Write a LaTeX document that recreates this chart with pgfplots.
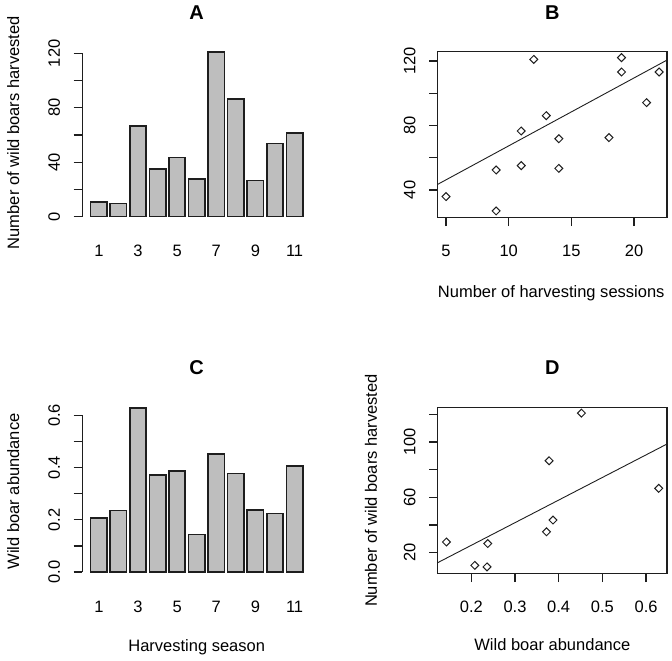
\documentclass[border=0pt]{standalone}
\usepackage{fontspec}
\setmainfont{Liberation Sans}
\usepackage{pgfplots}
\pgfplotsset{compat=1.18}
\definecolor{bargray}{HTML}{BEBEBE}
\definecolor{ink}{HTML}{1E1E1E}
\pgfplotsset{
  rplot/.style={
    scale only axis,
    font=\fontsize{16.5bp}{19bp}\selectfont,
    tick align=outside,
    major tick length=8.5bp,
    tick pos=left,
    tick style={ink, line width=1.3bp},
    axis line style={ink, line width=1.3bp},
    title style={font=\fontsize{20bp}{24bp}\selectfont\bfseries, at={(0.5,1)}, anchor=center, yshift=33.3bp},
    xticklabel style={anchor=center, yshift=-24.3bp},
    yticklabel style={anchor=center, xshift=-19.5bp, rotate=90},
    xlabel style={anchor=center},
    ylabel style={anchor=center},
    /pgf/number format/assume math mode=true,
    clip=false,
  },
  rbar/.style={ybar, bar width=1, fill=bargray, draw=ink, line width=1.6bp},
  rpts/.style={only marks, mark=square, mark size=2.8bp, mark options={rotate=45, draw=ink, fill=none, line width=1bp}},
  rline/.style={ink, line width=0.9bp, no marks},
}
\begin{document}
\begin{tikzpicture}[x=1bp,y=1bp]
\path[use as bounding box] (0,0) rectangle (672,661);

% Panel A
\begin{axis}[rplot, at={(82.2bp,443.3bp)}, anchor=south west,
  width=229bp, height=166bp,
  xmin=-0.32, xmax=13.72, ymin=-0.73, ymax=121.2,
  axis line style={draw=none},
  xtick={0.7,3.1,5.5,7.9,10.3,12.7}, xticklabels={1,3,5,7,9,11},
  xtick style={draw=none},
  ytick={0,20,40,60,80,100,120}, yticklabels={0,,40,,80,,120},
  title={A},
  ylabel={Number of wild boars harvested},
  ylabel style={at={(axis description cs:-0.301,0.512)}},
]
\draw[ink, line width=1.3bp] (axis cs:-0.32,0) -- (axis cs:-0.32,120);
\addplot[rbar] coordinates {(0.7,10.8) (1.9,9.7) (3.1,66.5) (4.3,35.1) (5.5,43.6) (6.7,27.7) (7.9,120.9) (9.1,86.4) (10.3,26.6) (11.5,53.9) (12.7,61.5)};
\end{axis}

% Panel B
\begin{axis}[rplot, at={(437.7bp,443.3bp)}, anchor=south west,
  width=229.3bp, height=166bp,
  xmin=4.338, xmax=22.63, ymin=22.8, ymax=125.8,
  xtick={5,10,15,20}, xticklabels={5,10,15,20},
  ytick={40,60,80,100,120}, yticklabels={40,,80,,120},
  title={B},
  xlabel={Number of harvesting sessions},
  xlabel style={at={(axis description cs:0.495,-0.456)}},
]
\addplot[rpts] coordinates {(5,35.9) (9,27.0) (9,52.4) (11,55.1) (11,76.6) (12,121.0) (13,86.1) (14,71.8) (14,53.4) (18,72.5) (19,122.1) (19,113.2) (21,94.2) (22,113.2)};
\addplot[rline] coordinates {(4.338,43.5) (22.63,120.6)};
\end{axis}

% Panel C
\begin{axis}[rplot, at={(82.2bp,87.3bp)}, anchor=south west,
  width=229bp, height=166.4bp,
  xmin=-0.32, xmax=13.72, ymin=-0.0065, ymax=0.631,
  axis line style={draw=none},
  xtick={0.7,3.1,5.5,7.9,10.3,12.7}, xticklabels={1,3,5,7,9,11},
  xtick style={draw=none},
  ytick={0,0.1,0.2,0.3,0.4,0.5,0.6}, yticklabels={0.0,,0.2,,0.4,,0.6},
  title={C},
  ylabel={Wild boar abundance},
  ylabel style={at={(axis description cs:-0.301,0.495)}},
  xlabel={Harvesting season},
  xlabel style={at={(axis description cs:0.5,-0.439)}},
]
\draw[ink, line width=1.3bp] (axis cs:-0.32,0) -- (axis cs:-0.32,0.6);
\addplot[rbar] coordinates {(0.7,0.208) (1.9,0.236) (3.1,0.629) (4.3,0.372) (5.5,0.387) (6.7,0.143) (7.9,0.452) (9.1,0.378) (10.3,0.2375) (11.5,0.2245) (12.7,0.407)};
\end{axis}

% Panel D
\begin{axis}[rplot, at={(437.7bp,87.3bp)}, anchor=south west,
  width=229.3bp, height=166.4bp,
  xmin=0.123, xmax=0.648, ymin=4.8, ymax=125.1,
  xtick={0.2,0.3,0.4,0.5,0.6}, xticklabels={0.2,0.3,0.4,0.5,0.6},
  ytick={20,40,60,80,100,120}, yticklabels={20,,60,,100,},
  title={D},
  ylabel={Number of wild boars harvested},
  ylabel style={at={(axis description cs:-0.291,0.5)}},
  xlabel={Wild boar abundance},
  xlabel style={at={(axis description cs:0.5,-0.428)}},
]
\addplot[rpts] coordinates {(0.143,27.7) (0.208,10.8) (0.236,9.7) (0.2375,26.6) (0.372,35.1) (0.387,43.6) (0.378,86.4) (0.452,120.9) (0.629,66.5)};
\addplot[rline] coordinates {(0.123,12.77) (0.648,98.55)};
\end{axis}
\end{tikzpicture}
\end{document}
